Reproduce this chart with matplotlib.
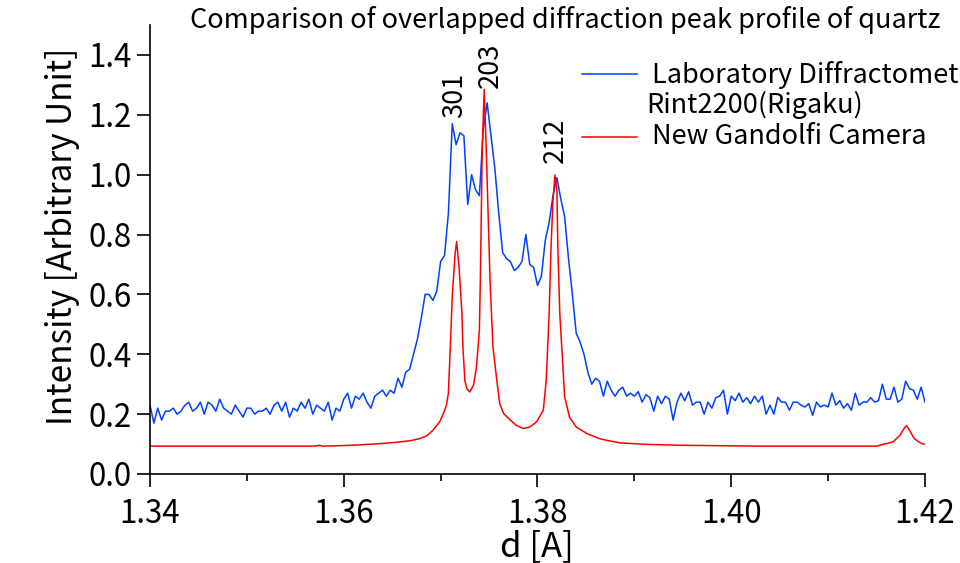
import numpy as np
import matplotlib
matplotlib.use("Agg")
import matplotlib.pyplot as plt
from matplotlib.lines import Line2D

plt.rcParams['font.family'] = ['Noto Sans CJK JP', 'DejaVu Sans']

# Laboratory diffractometer (Rint2200), sampled every 0.0004 A from 1.340
blue_start, blue_step = 1.340, 0.0004
blue_int = [
    0.23, 0.17, 0.22, 0.18, 0.21, 0.21, 0.22, 0.20, 0.21, 0.23,
    0.24, 0.21, 0.22, 0.24, 0.20, 0.24, 0.23, 0.21, 0.25, 0.22,
    0.21, 0.20, 0.23, 0.21, 0.19, 0.22, 0.22, 0.20, 0.21, 0.21,
    0.22, 0.20, 0.23, 0.24, 0.21, 0.24, 0.19, 0.22, 0.21, 0.24,
    0.22, 0.25, 0.20, 0.23, 0.22, 0.21, 0.24, 0.18, 0.22, 0.21,
    0.25, 0.27, 0.22, 0.26, 0.25, 0.27, 0.24, 0.22, 0.26, 0.27,
    0.28, 0.26, 0.28, 0.27, 0.32, 0.29, 0.34, 0.35, 0.40, 0.45,
    0.52, 0.60, 0.60, 0.58, 0.61, 0.71, 0.73, 0.87, 1.17, 1.10,
    1.14, 1.13, 0.90, 1.00, 0.95, 0.93, 1.15, 1.24, 1.13, 1.02,
    0.87, 0.74, 0.72, 0.71, 0.68, 0.69, 0.71, 0.80, 0.70, 0.69,
    0.63, 0.66, 0.78, 0.84, 0.93, 0.99, 0.92, 0.86, 0.72, 0.60,
    0.47, 0.44, 0.40, 0.34, 0.30, 0.32, 0.31, 0.26, 0.31, 0.28,
    0.26, 0.28, 0.29, 0.26, 0.27, 0.26, 0.275, 0.24, 0.265, 0.255,
    0.21, 0.26, 0.235, 0.26, 0.25, 0.18, 0.24, 0.27, 0.245, 0.275,
    0.23, 0.24, 0.24, 0.20, 0.24, 0.22, 0.255, 0.26, 0.28, 0.20,
    0.26, 0.245, 0.27, 0.24, 0.255, 0.235, 0.26, 0.24, 0.26, 0.20,
    0.23, 0.20, 0.256, 0.24, 0.24, 0.213, 0.24, 0.24, 0.23, 0.224,
    0.235, 0.196, 0.24, 0.224, 0.23, 0.224, 0.27, 0.23, 0.245, 0.22,
    0.235, 0.213, 0.27, 0.23, 0.24, 0.24, 0.255, 0.24, 0.245, 0.30,
    0.25, 0.25, 0.29, 0.24, 0.25, 0.31, 0.285, 0.28, 0.25, 0.29, 0.24,
]

# New Gandolfi camera profile
red_d = [
    1.3400, 1.3402, 1.3500, 1.3570, 1.3575, 1.3578, 1.3600, 1.3620, 1.3640,
    1.3658, 1.3670, 1.3679, 1.3686, 1.3692, 1.3699, 1.3703, 1.3706, 1.3708,
    1.3710, 1.3712, 1.3715, 1.37165, 1.3719, 1.3722, 1.3723, 1.3725, 1.3727,
    1.3730, 1.3734, 1.3737, 1.3740, 1.3741, 1.3742, 1.3743, 1.3745, 1.3747,
    1.3749, 1.3751, 1.3754, 1.3758, 1.3761, 1.3765, 1.3772, 1.3778, 1.3785,
    1.3792, 1.3799, 1.3806, 1.3809, 1.3812, 1.3814, 1.3816, 1.3818, 1.3820,
    1.3821, 1.3823, 1.3826, 1.3828, 1.3833, 1.3840, 1.3851, 1.3864, 1.3871,
    1.3885, 1.3913, 1.3947, 1.4030, 1.4150, 1.4157, 1.4167, 1.4174, 1.4179,
    1.4181, 1.4184, 1.4189, 1.4195, 1.4200,
]
red_int = [
    0.096, 0.093, 0.093, 0.093, 0.096, 0.093, 0.095, 0.098, 0.102,
    0.107, 0.112, 0.119, 0.128, 0.146, 0.174, 0.203, 0.230, 0.270,
    0.425, 0.592, 0.738, 0.776, 0.692, 0.537, 0.425, 0.313, 0.285,
    0.274, 0.297, 0.358, 0.480, 0.648, 0.871, 1.094, 1.285, 1.094,
    0.871, 0.648, 0.425, 0.313, 0.235, 0.202, 0.180, 0.163, 0.152,
    0.157, 0.174, 0.213, 0.313, 0.536, 0.759, 0.915, 0.999, 0.949,
    0.759, 0.537, 0.370, 0.258, 0.190, 0.157, 0.135, 0.118, 0.113,
    0.104, 0.099, 0.096, 0.093, 0.093, 0.099, 0.107, 0.129, 0.155,
    0.162, 0.146, 0.118, 0.104, 0.099,
]

# peak indices and where their labels sit
peak_names = ["301", "203", "212"]
peak_d = [1.3715, 1.3751, 1.3818]
peak_label_y = [1.19, 1.29, 1.04]

x_ticks = [1.34, 1.36, 1.38, 1.40, 1.42]
y_ticks = [0.0, 0.2, 0.4, 0.6, 0.8, 1.0, 1.2, 1.4]

blue_color = '#0040ff'
red_color = '#ff0000'

blue_d = np.round(blue_start + blue_step * np.arange(len(blue_int)), 4)

fig = plt.figure(figsize=(9.6, 5.63), dpi=100)
ax = fig.add_axes([150 / 960, 89 / 563, 775 / 960, 449 / 563])

ax.plot(blue_d, blue_int, color=blue_color, lw=1.1)
ax.plot(red_d, red_int, color=red_color, lw=1.1)

ax.set_xlim(1.34, 1.42)
ax.set_ylim(0.0, 1.5)
ax.set_xticks(x_ticks)
ax.set_xticklabels([f"{v:.2f}" for v in x_ticks])
ax.set_xticks([1.35, 1.37, 1.39, 1.41], minor=True)
ax.set_yticks(y_ticks)
ax.set_yticklabels([f"{v:.1f}" for v in y_ticks])

for s in ['top', 'right']:
    ax.spines[s].set_visible(False)
for s in ['left', 'bottom']:
    ax.spines[s].set_linewidth(1.2)
ax.tick_params(axis='both', which='major', direction='out', length=9.5,
               width=1.2, labelsize=22.5)
ax.tick_params(axis='x', which='major', pad=8)
ax.tick_params(axis='y', which='major', pad=4)
ax.tick_params(axis='x', which='minor', direction='out', length=5, width=1.2)

for name, d, y in zip(peak_names, peak_d, peak_label_y):
    ax.text(d, y, name, rotation=90, ha='center', va='bottom', fontsize=19.5)

# axis titles
fig.text(62 / 960, 1 - 236 / 563, "Intensity [Arbitrary Unit]", rotation=90,
         ha='center', va='center', fontsize=24)
fig.text(537 / 960, 7 / 563, "d [A]", ha='center', va='baseline', fontsize=25)

fig.text(190 / 960, 1 - 28 / 563,
         "Comparison of overlapped diffraction peak profile of quartz",
         ha='left', va='baseline', fontsize=19.5)

# legend drawn by hand so the blue sample lines up with the first text line
fig.add_artist(Line2D([582 / 960, 637 / 960], [1 - 74 / 563, 1 - 74 / 563],
                      color=blue_color, lw=1.1))
fig.add_artist(Line2D([582 / 960, 637 / 960], [1 - 137 / 563, 1 - 137 / 563],
                      color=red_color, lw=1.1))
fig.text(652 / 960, 1 - 83 / 563, "Laboratory Diffractometer",
         ha='left', va='baseline', fontsize=19.5)
fig.text(646 / 960, 1 - 113 / 563, "Rint2200(Rigaku)",
         ha='left', va='baseline', fontsize=19.5)
fig.text(652 / 960, 1 - 144 / 563, "New Gandolfi Camera",
         ha='left', va='baseline', fontsize=19.5)

fig.savefig("out.png", dpi=100)
